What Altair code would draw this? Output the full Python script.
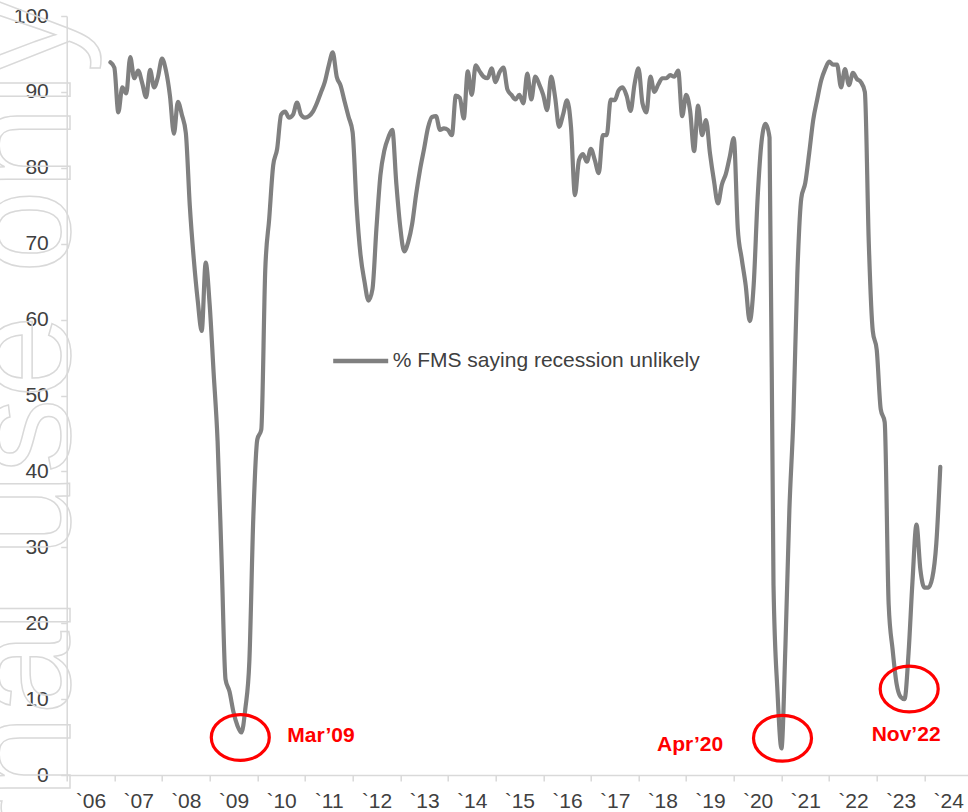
import altair as alt
import pandas as pd

# Monthly share of fund managers saying a recession is unlikely (first month: Mar 2006)
START_YEAR = 2006
START_MONTH = 3
RECESSION_UNLIKELY = [
    93.9, 93.2, 87.3, 90.6, 89.8, 94.6, 91.8, 92.8, 91.2, 89.3,
    92.9, 90.6, 92.0, 94.4, 92.8, 89.5, 84.5, 88.7, 87.0, 84.6,
    75.0, 68.0, 62.5, 58.5, 67.5, 62.0, 53.0, 44.0, 28.5, 12.6,
    11.0, 8.3, 6.5, 5.6, 8.8, 15.0, 34.0, 44.2, 45.5, 66.5,
    73.3, 80.3, 82.5, 87.0, 87.4, 86.6, 87.0, 88.6, 87.0, 86.6,
    86.8, 87.4, 88.5, 89.9, 91.3, 93.5, 95.2, 92.0, 90.8, 88.7,
    86.7, 84.7, 75.0, 68.5, 65.0, 62.5, 64.0, 72.0, 79.0, 82.3,
    84.0, 85.0, 78.0, 72.2, 69.0, 70.2, 72.6, 76.5, 79.8, 82.5,
    85.3, 86.7, 86.8, 85.0, 85.2, 85.0, 84.3, 89.5, 89.2, 86.5,
    92.7, 89.6, 93.5, 92.7, 92.0, 91.8, 93.1, 91.3, 92.6, 93.2,
    90.3, 89.6, 89.0, 89.6, 88.5, 92.4, 89.0, 92.0, 91.0, 89.6,
    87.6, 92.0, 89.3, 85.4, 87.0, 88.9, 85.4, 76.4, 81.0, 81.8,
    80.8, 82.5, 81.0, 79.3, 84.3, 84.3, 89.0, 88.9, 90.2, 90.6,
    89.5, 87.5, 91.0, 93.1, 88.5, 87.3, 92.0, 90.0, 91.0, 91.8,
    91.8, 92.2, 92.0, 92.8, 86.8, 89.6, 87.5, 82.2, 88.2, 84.3,
    86.3, 81.9, 78.3, 75.3, 77.8, 79.2, 81.5, 83.9, 72.0, 68.0,
    64.5, 59.8, 64.5, 76.0, 83.5, 85.8, 84.0, 25.0, 11.0, 3.5,
    17.0, 35.0, 47.0, 66.0, 76.0, 78.0, 82.0, 86.3, 89.0, 91.5,
    93.0, 94.0, 93.6, 93.6, 90.6, 93.0, 90.9, 92.5, 91.7, 91.3,
    90.0, 70.0, 58.5, 56.0, 48.2, 46.5, 22.5, 16.5, 12.0, 10.3,
    10.0, 16.0, 25.5, 33.0, 27.0, 24.7, 24.7, 26.0, 30.5, 40.6,
]
SERIES_NAME = "% FMS saying recession unlikely"

# Year axis: one band per year, label centred in its band
AXIS_START = 2005.25
AXIS_END = 2024.165
YEAR_LABELS = ["`06", "`07", "`08", "`09", "`10", "`11", "`12", "`13", "`14", "`15",
               "`16", "`17", "`18", "`19", "`20", "`21", "`22", "`23", "`24"]

# Circled troughs and their captions
TROUGH_LABELS = ["Mar’09", "Apr’20", "Nov’22"]
TROUGH_T = [2008.893, 2020.272, 2022.931]
TROUGH_V = [4.94, 4.84, 11.33]
CAPTION_T = [2009.88, 2017.638, 2022.144]
CAPTION_V = [5.2, 3.95, 5.3]

WATERMARK = "Internal use only"

FONT = "Liberation Sans"
GREY_LINE = "#808080"
TEXT_GREY = "#404040"
AXIS_GREY = "#d9d9d9"
RED = "#ff0000"

series = pd.DataFrame({
    "t": [START_YEAR + (START_MONTH - 1 + i) / 12 for i in range(len(RECESSION_UNLIKELY))],
    "v": RECESSION_UNLIKELY,
    "series": [SERIES_NAME] * len(RECESSION_UNLIKELY),
})
troughs = pd.DataFrame({"t": TROUGH_T, "v": TROUGH_V})
captions = pd.DataFrame({"t": CAPTION_T, "v": CAPTION_V, "label": TROUGH_LABELS})
mark_text_df = pd.DataFrame({"w": [WATERMARK]})

label_expr = "[" + ",".join(f"'{s}'" for s in YEAR_LABELS) + f"][round(datum.value - {AXIS_START})]"

x_axis = alt.Axis(
    values=[AXIS_START + k for k in range(len(YEAR_LABELS))],
    labelExpr=label_expr,
    labelOffset=23.8,
    labelFlush=False,
    labelOverlap=False,
    labelFont=FONT,
    labelFontSize=21,
    labelColor=TEXT_GREY,
    labelPadding=9,
    tickSize=6,
    tickColor=AXIS_GREY,
    tickWidth=1.5,
    domainColor=AXIS_GREY,
    domainWidth=1.5,
    grid=False,
)
y_axis = alt.Axis(
    values=list(range(0, 101, 10)),
    labelFont=FONT,
    labelFontSize=21,
    labelColor=TEXT_GREY,
    labelPadding=12.4,
    tickSize=6,
    tickColor=AXIS_GREY,
    tickWidth=1.5,
    domainColor=AXIS_GREY,
    domainWidth=1.5,
    grid=False,
)

x_enc = alt.X("t:Q", scale=alt.Scale(domain=[AXIS_START, AXIS_END], nice=False, zero=False),
              axis=x_axis, title=None)
y_enc = alt.Y("v:Q", scale=alt.Scale(domain=[0, 100], nice=False, zero=True),
              axis=y_axis, title=None)

watermark = alt.Chart(mark_text_df).mark_text(
    angle=270, align="right", baseline="alphabetic", font=FONT, fontSize=150,
    fillOpacity=0, stroke=AXIS_GREY, strokeWidth=1.5,
).encode(x=alt.value(3), y=alt.value(-18), text="w:N")

line = alt.Chart(series).mark_line(
    strokeWidth=4.2, interpolate="monotone", strokeCap="round", strokeJoin="round",
).encode(
    x=x_enc,
    y=y_enc,
    color=alt.Color(
        "series:N",
        scale=alt.Scale(range=[GREY_LINE]),
        legend=alt.Legend(
            orient="none", legendX=264, legendY=315, title=None,
            symbolType="stroke", symbolSize=3025, symbolStrokeWidth=4.5,
            labelFont=FONT, labelFontSize=21, labelColor=TEXT_GREY,
            labelOffset=2, labelLimit=600, padding=0,
        ),
    ),
)

ellipse_path = "M -1 0 A 1 0.79 0 1 1 1 0 A 1 0.79 0 1 1 -1 0 Z"
rings = alt.Chart(troughs).mark_point(
    shape=ellipse_path, size=3364, filled=False, stroke=RED, strokeWidth=3.2, opacity=1,
).encode(x=x_enc, y=y_enc)

labels = alt.Chart(captions).mark_text(
    align="left", baseline="middle", font=FONT, fontSize=21, fontWeight="bold", color=RED,
).encode(x=x_enc, y=y_enc, text="label:N")

chart = alt.layer(watermark, line, rings, labels).properties(
    width=901.3,
    height=759,
    autosize=alt.AutoSizeParams(type="none"),
    padding={"left": 66.7, "top": 16, "right": 0, "bottom": 37},
    background="white",
).configure_view(strokeWidth=0)

chart.save("out.html", embed_options={"renderer": "svg", "actions": False})
